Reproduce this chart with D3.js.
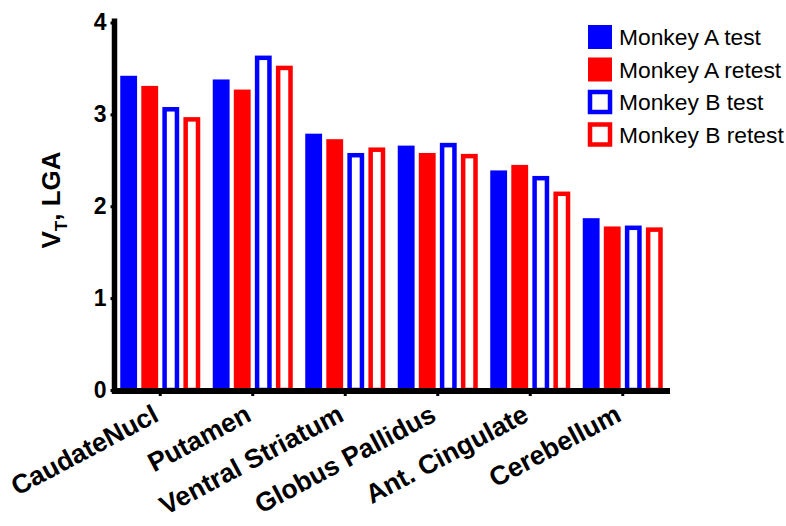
<!DOCTYPE html>
<html>
<head>
<meta charset="utf-8">
<script src="https://cdn.jsdelivr.net/npm/d3@7"></script>
<style>
  html, body { margin: 0; padding: 0; background: #fff; }
  svg { display: block; }
</style>
</head>
<body>
<svg id="chart" width="786" height="526"></svg>
<script>
// Regions and VT estimates (LGA) for each monkey / scan
const regions = ["CaudateNucl", "Putamen", "Ventral Striatum", "Globus Pallidus", "Ant. Cingulate", "Cerebellum"];
const seriesNames = ["Monkey A test", "Monkey A retest", "Monkey B test", "Monkey B retest"];
const monkeyATest   = [3.42, 3.38, 2.79, 2.66, 2.39, 1.87];
const monkeyARetest = [3.31, 3.27, 2.73, 2.58, 2.45, 1.78];
const monkeyBTest   = [3.08, 3.64, 2.58, 2.69, 2.33, 1.79];
const monkeyBRetest = [2.97, 3.53, 2.64, 2.57, 2.16, 1.77];
const yTicks = [0, 1, 2, 3, 4];

const seriesValues = [monkeyATest, monkeyARetest, monkeyBTest, monkeyBRetest];
const seriesColor = ["#0000ff", "#ff0000", "#0000ff", "#ff0000"];
const seriesHollow = [false, false, true, true];

const svg = d3.select("#chart");
const font = "'Liberation Sans', Arial, sans-serif";

const x = d3.scaleBand().domain(regions).range([114, 669]).paddingInner(0).paddingOuter(0);
const y = d3.scaleLinear().domain([0, 4]).range([390, 22.5]);

// inner band for the four bars of each region
const xs = d3.scaleBand().domain(d3.range(4)).range([0, 80]).paddingInner(0.2).paddingOuter(0);
const groupOffset = (x.bandwidth() - 80) / 2;

const sw = 4.5; // outline width for hollow bars

const groups = svg.append("g");
seriesValues.forEach((vals, s) => {
  groups.selectAll(null)
    .data(vals)
    .enter()
    .append("rect")
    .attr("x", (d, i) => x(regions[i]) + groupOffset + xs(s) + (seriesHollow[s] ? sw / 2 : 0))
    .attr("y", d => y(d) + (seriesHollow[s] ? sw / 2 : 0))
    .attr("width", xs.bandwidth() - (seriesHollow[s] ? sw : 0))
    .attr("height", d => y(0) - y(d) - (seriesHollow[s] ? sw / 2 : 0))
    .attr("fill", seriesHollow[s] ? "#fff" : seriesColor[s])
    .attr("stroke", seriesHollow[s] ? seriesColor[s] : "none")
    .attr("stroke-width", seriesHollow[s] ? sw : 0);
});

// Y axis
const yAxis = svg.append("g")
  .attr("transform", "translate(114.5,0)")
  .call(d3.axisLeft(y).tickValues(yTicks).tickFormat(d3.format("d")).tickSize(4).tickPadding(4));
yAxis.select(".domain").attr("d", `M0,${y(4) - 4}V${y(0) + 4}`).attr("stroke", "#000").attr("stroke-width", 5.5);
yAxis.selectAll(".tick line").attr("stroke", "#000").attr("stroke-width", 3);
yAxis.selectAll(".tick text")
  .attr("font-family", font).attr("font-size", 23).attr("font-weight", "bold").attr("fill", "#000");

// X axis
const xAxis = svg.append("g")
  .attr("transform", `translate(0,${y(0) + 1})`)
  .call(d3.axisBottom(x).tickSize(5).tickPadding(6));
xAxis.select(".domain").attr("d", `M112,0H670`).attr("stroke", "#000").attr("stroke-width", 6);
xAxis.selectAll(".tick line").attr("stroke", "#000").attr("stroke-width", 3);
xAxis.selectAll(".tick text")
  .attr("font-family", font).attr("font-size", 26.5).attr("font-weight", "bold").attr("fill", "#000")
  .attr("text-anchor", "end")
  .attr("dy", null)
  .attr("y", 0)
  .attr("transform", "translate(0,29) rotate(-28)");

// Y axis title with subscript
const yt = svg.append("text")
  .attr("transform", "translate(60,200) rotate(-90)")
  .attr("text-anchor", "middle")
  .attr("font-family", font).attr("font-size", 26).attr("font-weight", "bold").attr("fill", "#000");
yt.append("tspan").text("V");
yt.append("tspan").attr("font-size", 17).attr("dy", 7).text("T");
yt.append("tspan").attr("dy", -7).text(", LGA");

// Legend
const legend = svg.append("g").attr("transform", "translate(588,25)");
seriesNames.forEach((name, i) => {
  const g = legend.append("g").attr("transform", `translate(0,${i * 32.5})`);
  if (seriesHollow[i]) {
    g.append("rect").attr("x", 2).attr("y", 2).attr("width", 20).attr("height", 20)
      .attr("fill", "#fff").attr("stroke", seriesColor[i]).attr("stroke-width", 4.5);
  } else {
    g.append("rect").attr("width", 24).attr("height", 24).attr("fill", seriesColor[i]);
  }
  g.append("text").attr("x", 31).attr("y", 20)
    .attr("font-family", font).attr("font-size", 22.8).attr("fill", "#000")
    .text(name);
});
</script>
</body>
</html>
